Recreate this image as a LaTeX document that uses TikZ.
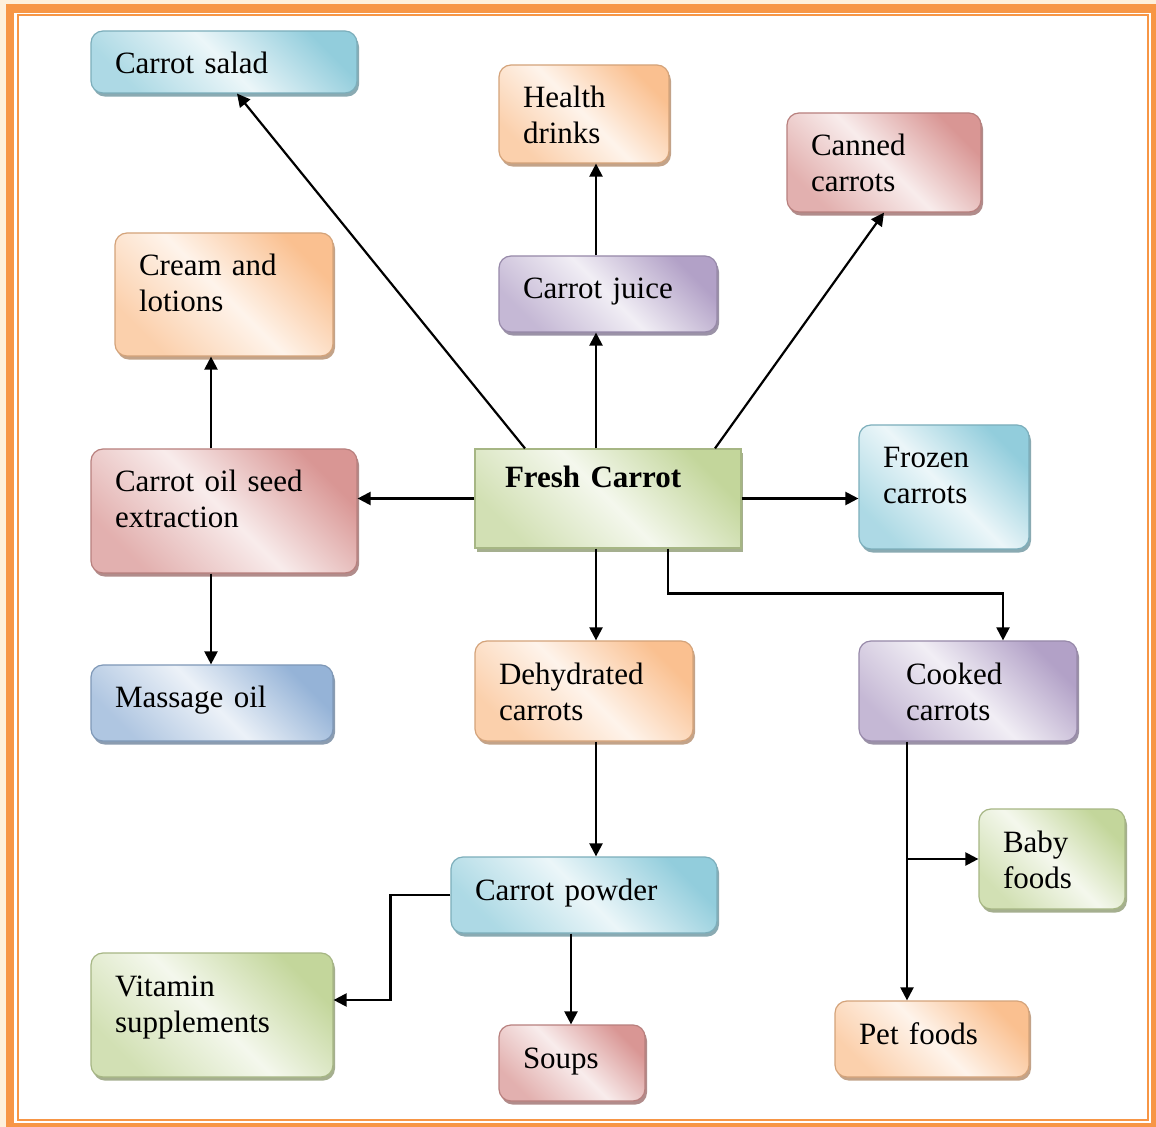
\documentclass[tikz,border=0pt]{standalone}
\usepackage{fontspec}
\setmainfont{Liberation Serif}
\usetikzlibrary{shadows,arrows.meta,calc}
\definecolor{fcAqua}{HTML}{92CDDC}
\definecolor{fcOrange}{HTML}{FAC090}
\definecolor{fcRose}{HTML}{D99694}
\definecolor{fcLilac}{HTML}{B2A1C7}
\definecolor{fcOlive}{HTML}{C3D69B}
\definecolor{fcSteel}{HTML}{95B3D7}
\definecolor{fcFrame}{HTML}{F79646}
\definecolor{fcPage}{HTML}{FEF0DC}

\begin{document}
\begin{tikzpicture}[
  x=0.5pt, y=-0.5pt,
  font=\fontsize{15.5}{18}\selectfont, >={Triangle[length=6.5pt,width=6.5pt]},
  box/.style={rounded corners=6pt, draw=#1!85!black, line width=0.6pt,
              left color=#1, right color=#1!75, middle color=#1!18, shading angle=-45,
              drop shadow={shadow xshift=1pt, shadow yshift=-1.8pt, fill=#1!55!gray, opacity=1},
              align=left, inner xsep=12pt, inner ysep=2pt, text height=19.5pt},
  arr/.style={->, line width=1.1pt},
]
% page and frame
\useasboundingbox (0,0) rectangle (1156,1127);
\clip (0,0) rectangle (1156,1127);
\fill[fcPage] (0,0) rectangle (1156,1127);
\draw[fcFrame, line width=4.25pt, fill=white] (10,8.5) rectangle (1155,1127);
\draw[fcFrame, line width=1pt] (18,15) rectangle (1148,1120);

% products
\node[box=fcAqua, text width=109pt, text depth=7.5pt] (salad) at (224,62) {Carrot salad};
\node[box=fcOrange, text width=61pt, text depth=25.5pt] (drinks) at (584,114) {Health\\drinks};
\node[box=fcRose, text width=73pt, text depth=26pt] (canned) at (884,162.5) {Canned\\carrots};
\node[box=fcOrange, text width=85pt, text depth=38pt] (cream) at (224,294.5) {Cream and\\lotions};
\node[box=fcLilac, text width=85pt, text depth=14.5pt] (juice) at (608,294) {Carrot juice};
\node[box=fcRose, text width=109pt, text depth=38.5pt] (oilseed) at (224,511) {Carrot oil seed\\extraction};
\node[box=fcOlive, sharp corners, inner xsep=15pt, text width=103pt, text height=17.5pt,
      text depth=28pt] (fresh) at (608,498.5) {\bfseries Fresh Carrot};
\node[box=fcAqua, text width=61pt, text depth=38.5pt] (frozen) at (944,487) {Frozen\\carrots};
\node[box=fcSteel, text width=97pt, text depth=14.5pt] (massage) at (212,703) {Massage oil};
\node[box=fcOrange, text width=85pt, text depth=26.5pt] (dehyd) at (584,691) {Dehydrated\\carrots};
\node[box=fcLilac, inner xsep=23.5pt, text width=62pt, text depth=26.5pt] (cooked) at (968,691) {Cooked\\carrots};
\node[box=fcOlive, text width=49pt, text depth=26.5pt] (baby) at (1052,859) {Baby\\foods};
\node[box=fcAqua, text width=109pt, text depth=14.5pt] (powder) at (584,895) {Carrot powder};
\node[box=fcOlive, text width=97pt, text depth=38.5pt] (vitamin) at (212,1015) {Vitamin\\supplements};
\node[box=fcRose, text width=49pt, text depth=14.5pt] (soups) at (572,1063) {Soups};
\node[box=fcOrange, text width=73pt, text depth=14.5pt] (petfoods) at (932,1039) {Pet foods};

% out of the fresh carrot
\draw[arr] ([xshift=-41.5pt]fresh.north) -- ([xshift=6.5pt]salad.south);
\draw[arr] ([xshift=-6pt]fresh.north) -- ([xshift=-6pt]juice.south);
\draw[arr] ([xshift=-6pt]juice.north) -- ([xshift=6pt]drinks.south);
\draw[arr] ([xshift=53.5pt]fresh.north) -- (canned.south);
\draw[arr] (fresh.west) -- (fresh.west -| oilseed.east);
\draw[arr] (fresh.east) -- (fresh.east -| frozen.west);
\draw[arr] ([xshift=-6pt]fresh.south) -- ([xshift=6pt]dehyd.north);
\draw[arr] ([xshift=30pt]fresh.south) -- ++(0,45) -| ([xshift=17.5pt]cooked.north);
% oil seed
\draw[arr] ([xshift=-6.5pt]oilseed.north) -- ([xshift=-6.5pt]cream.south);
\draw[arr] ([xshift=-6.5pt]oilseed.south) -- ([xshift=-0.5pt]massage.north);
% dehydrated -> powder -> uses
\draw[arr] ([xshift=6pt]dehyd.south) -- ([xshift=6pt]powder.north);
\draw[arr] (powder.west) -- ++(-60,0) |- ([yshift=7.5pt]vitamin.east);
\draw[arr] ([xshift=-6.5pt]powder.south) -- ([xshift=-0.5pt]soups.north);
% cooked
\coordinate (ckdrop) at ([xshift=-30.5pt]cooked.south);
\draw[arr] (ckdrop) -- (ckdrop |- petfoods.north);
\draw[arr] (ckdrop |- baby.west) -- (baby.west);
\end{tikzpicture}
\end{document}
